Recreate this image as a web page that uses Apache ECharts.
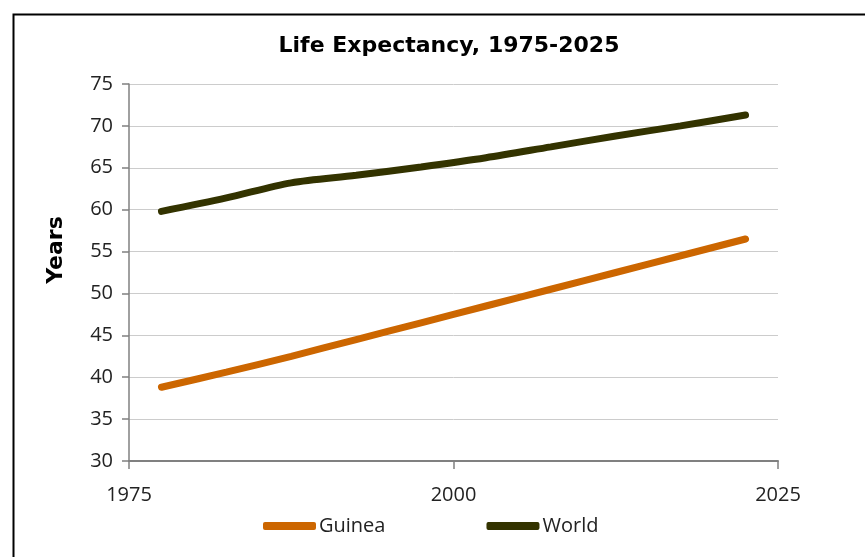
<!DOCTYPE html>
<html>
<head>
<meta charset="utf-8">
<script src="https://cdn.jsdelivr.net/npm/echarts@6/dist/echarts.min.js"></script>
<style>
html,body{margin:0;padding:0;background:#fff;}
#chart{width:865px;height:557px;}
</style>
</head>
<body>
<div id="chart"></div>
<script>
const titleText = "Life Expectancy, 1975-2025";
const yAxisTitle = "Years";
const years = [1977.5, 1982.5, 1987.5, 1992.5, 1997.5, 2002.5, 2007.5, 2012.5, 2017.5, 2022.5];
const guinea = [38.8, 40.6, 42.5, 44.5, 46.5, 48.5, 50.5, 52.5, 54.5, 56.5];
const world = [59.8, 61.4, 63.2, 64.1, 65.1, 66.2, 67.5, 68.8, 70.0, 71.3];
const seriesNames = ["Guinea", "World"];
const colors = ["#CC6600", "#333300"];

const font = "'Open Sans', 'Noto Sans', sans-serif";
const boldFont = "'DejaVu Sans', sans-serif";
const chart = echarts.init(document.getElementById('chart'), null, {renderer: 'canvas'});

function pairs(xs, ys) { return xs.map((x, i) => [x, ys[i]]); }

chart.setOption({
  animation: false,
  backgroundColor: '#fff',
  title: {
    text: titleText,
    left: 449, top: 35, textAlign: 'center', padding: 0,
    textStyle: {fontFamily: boldFont, fontWeight: 'bold', fontSize: 22, color: '#000'}
  },
  graphic: [
    {
      type: 'rect', left: 11, top: 12,
      shape: {width: 900, height: 600},
      style: {fill: 'none', stroke: '#000', lineWidth: 2}, silent: true
    },
    {
      type: 'text', x: 56, y: 250, rotation: Math.PI / 2,
      style: {text: yAxisTitle, font: "bold 22px 'DejaVu Sans', sans-serif", fill: '#000',
              align: 'center', verticalAlign: 'middle'}, silent: true
    }
  ],
  legend: {
    data: seriesNames,
    left: 263, top: 516, padding: 0,
    itemGap: 101,
    itemWidth: 53, itemHeight: 8,
    textStyle: {fontFamily: font, fontSize: 20, color: '#222', padding: [0,0,0,-2]},
    icon: 'roundRect'
  },
  grid: {left: 129, right: 87, top: 84, bottom: 96},
  xAxis: {
    type: 'value', min: 1975, max: 2025, interval: 25,
    axisLine: {lineStyle: {color: '#808080', width: 2}},
    axisTick: {show: true, length: 8, lineStyle: {color: '#808080', width: 1.5}},
    axisLabel: {fontFamily: font, fontSize: 20, color: '#222', margin: 24,
                formatter: v => String(v)},
    splitLine: {show: false}
  },
  yAxis: {
    type: 'value', min: 30, max: 75, interval: 5,
    axisLine: {show: true, lineStyle: {color: '#808080', width: 1.5}},
    axisTick: {show: true, length: 7, lineStyle: {color: '#808080', width: 1.5}},
    axisLabel: {fontFamily: font, fontSize: 20, color: '#222', margin: 16},
    splitLine: {lineStyle: {color: '#cccccc', width: 1}}
  },
  series: [
    {name: seriesNames[0], type: 'line', data: pairs(years, guinea), smooth: 0.3, showSymbol: false,
     lineStyle: {color: colors[0], width: 7, cap: 'round'}, itemStyle: {color: colors[0]}},
    {name: seriesNames[1], type: 'line', data: pairs(years, world), smooth: 0.3, showSymbol: false,
     lineStyle: {color: colors[1], width: 7, cap: 'round'}, itemStyle: {color: colors[1]}}
  ]
});
</script>
</body>
</html>
